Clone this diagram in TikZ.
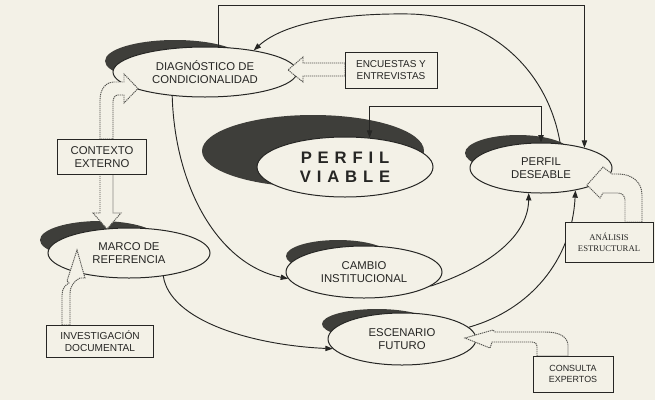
\documentclass[tikz,border=0pt]{standalone}
\usepackage{fontspec}
\setmainfont{Liberation Sans}
\newfontfamily\serifface{Liberation Serif}
\newfontfamily\spacedface{Liberation Sans}[LetterSpace=35]
\usetikzlibrary{shapes.geometric,arrows.meta}
\definecolor{paper}{RGB}{243,241,231}
\definecolor{ink}{RGB}{38,38,36}
\definecolor{smoke}{RGB}{62,62,58}
\definecolor{dotgray}{RGB}{85,85,80}
\tikzset{
  oval/.style={ellipse, draw=ink, line width=0.75pt, fill=paper, inner sep=0pt, align=center, text=ink, font=\fontsize{8.5}{9.4}\selectfont},
  ovalshadow/.style={fill=smoke},
  srcbox/.style={rectangle, draw=ink, line width=0.75pt, fill=paper, inner sep=0pt, align=center, text=ink},
  link/.style={draw=ink, line width=0.7pt, -{Triangle[length=5.5pt,width=4pt]}},
  twoway/.style={link, {Triangle[length=5.5pt,width=4pt]}-{Triangle[length=5.5pt,width=4pt]}},
  hollow/.style={draw=dotgray, dash pattern=on 0.9pt off 0.6pt, fill=paper, line width=0.7pt}
}
\begin{document}
\begin{tikzpicture}[x=0.75pt,y=0.75pt,yscale=-1,xscale=1]
\useasboundingbox (0,0) rectangle (655,400);
\fill[paper] (0,0) rectangle (655,400);

%Shape: Ellipse shadows
\fill[ovalshadow] (175,61) ellipse [x radius=70, y radius=21];
\fill[ovalshadow] (313,151) ellipse [x radius=111, y radius=36];
\fill[ovalshadow] (518,153) ellipse [x radius=53, y radius=18];
\fill[ovalshadow] (100,240) ellipse [x radius=60, y radius=19];
\fill[ovalshadow] (338,256) ellipse [x radius=52, y radius=16];
\fill[ovalshadow] (377,324) ellipse [x radius=55, y radius=15];

%Shape: Ellipse
\node[oval, minimum width=138pt, minimum height=37.5pt] (diag) at (205,72) {DIAGNÓSTICO DE\\CONDICIONALIDAD};
\node[oval, minimum width=132pt, minimum height=45pt, font=\spacedface\bfseries\fontsize{12.5}{14.3}\selectfont] (viable) at (345,167) {PERFIL\\VIABLE};
\node[oval, minimum width=106.5pt, minimum height=37.5pt] (deseable) at (541,168) {PERFIL\\DESEABLE};
\node[oval, minimum width=121.5pt, minimum height=37.5pt] (marco) at (129,253) {MARCO DE\\REFERENCIA};
\node[oval, minimum width=117pt, minimum height=39pt] (cambio) at (364,272) {CAMBIO\\INSTITUCIONAL};
\node[oval, minimum width=111pt, minimum height=39pt] (futuro) at (402,339) {ESCENARIO\\FUTURO};

%Straight Lines
\draw[link] (diag.62) -- ++(0,-41) -| (deseable.25);
\draw[twoway] (viable.50) -- ++(0,-31) -| (deseable.north);

%Curve Lines
\draw[link] (deseable.52) .. controls (548,70) and (490,16) .. (410,14) .. controls (345,13) and (285,22) .. (diag.24);
\draw[link] (diag.216) .. controls (175,190) and (220,265) .. (cambio.185);
\draw[link] (marco.-34) .. controls (170,320) and (250,345) .. (futuro.188);
\draw[link] (cambio.-12) .. controls (480,270) and (528,240) .. (deseable.244);
\draw[link] (futuro.10) .. controls (530,310) and (572,260) .. (deseable.-33);

%Shape: Hollow arrows
\draw[hollow] (100,139) -- (100,100) .. controls (100,89) and (106,82) .. (114,82) -- (124,82) -- (124,74) -- (138,88.5) -- (124,103) -- (124,95) -- (118,95) .. controls (115,95) and (113,98) .. (113,102) -- (113,139) -- cycle;
\draw[hollow] (100,174) -- (100,213) -- (93,213) -- (107,229) -- (121,213) -- (113,213) -- (113,174) -- cycle;
\draw[hollow] (62,325) -- (62,295) .. controls (62,289) and (65,285) .. (69,283) -- (67,281) -- (77,250) -- (85,278) -- (80,278) .. controls (74,281) and (70,286) .. (70,294) -- (70,325) -- cycle;
\draw[hollow] (345,63) -- (303,63) -- (303,57) -- (288,70) -- (303,82) -- (303,76) -- (345,76) -- cycle;
\draw[hollow] (642,222) -- (642,195) .. controls (642,182) and (632,174) .. (618,174) -- (612,174) -- (603,167) -- (587,185) -- (600,198) -- (603,193) -- (618,193) .. controls (622,193) and (625,196) .. (625,200) -- (625,222) -- cycle;
\draw[hollow] (537,356) -- (537,346) .. controls (537,343) and (535,342) .. (532,342) -- (492,342) -- (490,348) -- (465,338) -- (493,330) -- (495,332) -- (545,332) .. controls (560,332) and (568,337) .. (568,346) -- (568,356) -- cycle;

%Shape: Rectangle
\node[srcbox, minimum width=69pt, minimum height=27pt, font=\fontsize{7.5}{8.8}\selectfont] (enc) at (391,70) {ENCUESTAS Y\\ENTREVISTAS};
\node[srcbox, minimum width=66.75pt, minimum height=26.25pt, font=\fontsize{8.5}{9.2}\selectfont] (ctx) at (102,157) {CONTEXTO\\EXTERNO};
\node[srcbox, minimum width=80.25pt, minimum height=24pt, font=\fontsize{7.6}{9}\selectfont] (inv) at (100,341) {INVESTIGACIÓN\\DOCUMENTAL};
\node[srcbox, minimum width=66pt, minimum height=30pt, font=\serifface\fontsize{6.5}{8}\selectfont] (ana) at (609,242) {ANÁLISIS\\ESTRUCTURAL};
\node[srcbox, minimum width=60pt, minimum height=27pt, font=\fontsize{6.7}{8.8}\selectfont] (con) at (573,374) {CONSULTA\\EXPERTOS};

\end{tikzpicture}
\end{document}
